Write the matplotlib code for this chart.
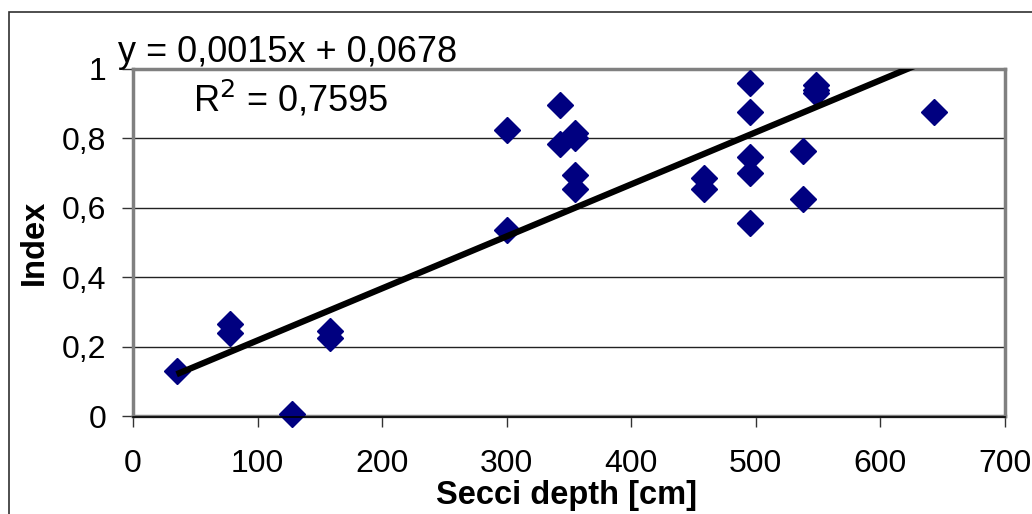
import matplotlib
matplotlib.use("Agg")
import matplotlib.pyplot as plt
from matplotlib.patches import Rectangle
import numpy as np

plt.rcParams['font.family'] = ['Liberation Sans', 'DejaVu Sans']

# Secchi depth [cm] and index values
secchi_depth = [35, 78, 78, 128, 158, 158,
                300, 300, 343, 343, 355, 355, 355, 355,
                458, 458, 495, 495, 495, 495, 495,
                538, 538, 548, 548, 548, 643]
index_values = [0.13, 0.265, 0.24, 0.005, 0.245, 0.225,
                0.825, 0.535, 0.895, 0.785, 0.815, 0.695, 0.655, 0.80,
                0.685, 0.655, 0.96, 0.875, 0.745, 0.70, 0.555,
                0.765, 0.625, 0.955, 0.94, 0.93, 0.875]

# Linear trend
slope = 0.0015
intercept = 0.0678
r_squared = 0.7595

x_ticks = [0, 100, 200, 300, 400, 500, 600, 700]
y_ticks = [0, 0.2, 0.4, 0.6, 0.8, 1.0]
y_tick_labels = ["0", "0,2", "0,4", "0,6", "0,8", "1"]

W, H = 1032, 514
fig = plt.figure(figsize=(W / 100, H / 100), dpi=100)
ax = fig.add_axes([133 / W, 1 - 416 / H, (1005 - 133) / W, (416 - 69) / H])

# Outer chart frame
fig.patches.append(Rectangle((9 / W, -0.2), 1.5, (H - 12) / H + 0.2,
                             transform=fig.transFigure, fill=False,
                             edgecolor='#303030', linewidth=1.2, zorder=0))

ax.set_xlim(0, 700)
ax.set_ylim(0, 1)

for y in y_ticks[1:-1]:
    ax.axhline(y, color='#222222', linewidth=1.0, zorder=1)

ax.plot(secchi_depth, index_values, linestyle='none', marker='D',
        markersize=13, markerfacecolor='#000080', markeredgecolor='#000080',
        markeredgewidth=1, zorder=3, clip_on=False)

x_fit = np.array([min(secchi_depth), max(secchi_depth)])
ax.plot(x_fit, slope * x_fit + intercept, color='black', linewidth=4.5,
        solid_capstyle='butt', zorder=4)

for side in ['top', 'right', 'left', 'bottom']:
    ax.spines[side].set_color('#808080')
    ax.spines[side].set_linewidth(2.5)
ax.plot([0, 1], [-0.004, -0.004], transform=ax.transAxes, color='black',
        linewidth=1.2, clip_on=False, zorder=5)

ax.set_xticks(x_ticks)
ax.set_xticklabels([str(v) for v in x_ticks])
ax.set_yticks(y_ticks)
ax.set_yticklabels(y_tick_labels)
ax.tick_params(axis='x', direction='out', length=8, width=1, color='#333333',
               labelsize=23, pad=16)
ax.tick_params(axis='y', direction='out', length=8, width=1, color='#333333',
               labelsize=23, pad=11)

ax.set_xlabel("Secci depth [cm]", fontsize=23.5, fontweight='bold')
ax.xaxis.set_label_coords(0.497, -0.228)
ax.xaxis.label.set_va('center')
ax.set_ylabel("Index", fontsize=23.5, fontweight='bold')
ax.yaxis.set_label_coords(-0.113, 0.5)
ax.yaxis.label.set_va('center')

fig.text(118 / W, 1 - 62 / H, "y = 0,0015x + 0,0678", fontsize=26,
         ha='left', va='baseline')
fig.text(193 / W, 1 - 112 / H, "R$^2$ = 0,7595", fontsize=26,
         ha='left', va='baseline')

fig.savefig("out.png", dpi=100)
